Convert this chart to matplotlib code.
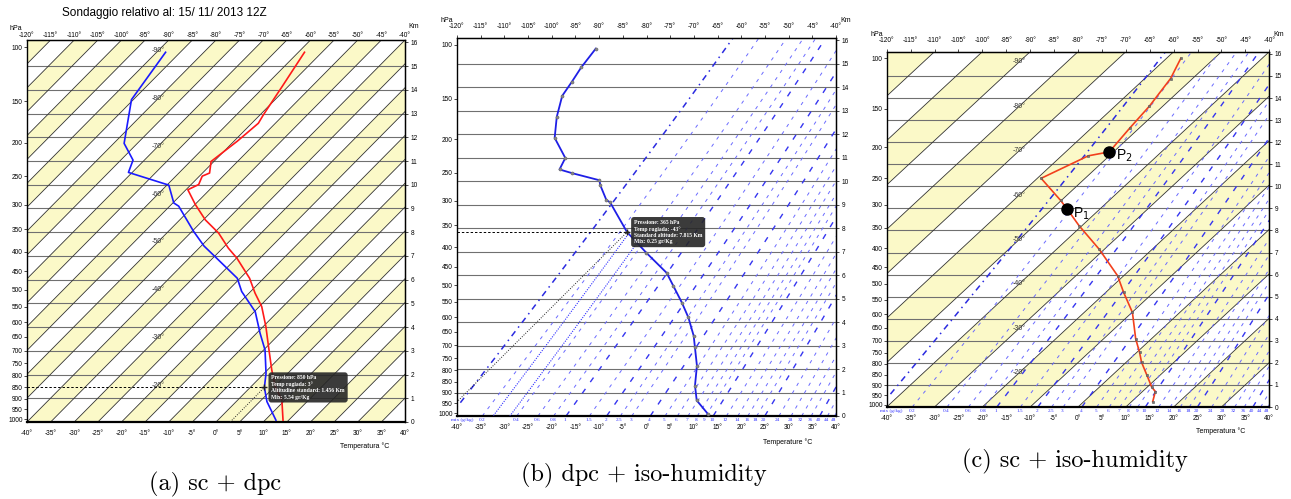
import numpy as np
import matplotlib.pyplot as plt

plt.rcParams['font.family'] = ['Liberation Sans', 'DejaVu Sans']

# ---------------- data ----------------
# (a) sc + dpc : temperature (red) and dew point (blue)
a_temp_p = [104, 134, 165, 175, 198, 227, 245, 250, 264, 273, 300, 330, 358, 392,
            416, 468, 510, 550, 615, 685, 776, 846, 906, 1004]
a_temp_t = [-58.7, -56.3, -54.3, -53.6, -54.3, -55.6, -53.5, -54.4, -53.4, -54.6,
            -49.9, -44.6, -39.0, -33.8, -29.9, -23.0, -18.7, -14.5, -9.4, -4.7,
            0.9, 5.1, 9.3, 13.8]
a_dew_p = [104, 148, 201, 225, 244, 265, 297, 303, 354, 387, 416, 468, 505, 566,
           637, 698, 790, 850, 914, 1004]
a_dew_t = [-88.1, -85.4, -77.8, -72.4, -70.8, -59.6, -54.8, -53.1, -44.7, -39.4,
           -34.2, -25.6, -21.9, -14.8, -9.3, -4.7, 0.4, 3.0, 6.5, 12.3]

# (b) dpc + iso-humidity : dew point only
b_dew_p = [103, 119, 133, 147, 171, 198, 227, 245, 251, 263, 272, 299, 303, 365,
           414, 466, 503, 553, 601, 665, 708, 781, 867, 936, 1005]
b_dew_t = [-88.4, -87.5, -86.4, -85.5, -82.2, -78.2, -71.7, -70.5, -67.1, -59.8,
           -58.5, -54.1, -52.9, -43.0, -34.5, -26.0, -21.8, -16.5, -12.0, -7.0,
           -4.3, 0.0, 3.8, 7.3, 12.7]

# (c) sc + iso-humidity : temperature with points P1, P2
c_temp_p = [100, 118, 147, 173, 207, 213, 250, 291, 309, 345, 402, 475, 526, 594,
            693, 748, 792, 851, 909, 932, 984]
c_temp_t = [-57.0, -54.6, -52.8, -52.0, -50.9, -54.4, -59.2, -50.2, -46.8, -40.6,
            -31.1, -21.3, -16.3, -9.9, -3.3, 0.5, 3.2, 7.2, 10.9, 12.7, 14.4]
c_points = {'1': (309, -46.8), '2': (207, -50.9)}

# axis labels
p_ticks = [100, 150, 200, 250, 300, 350, 400, 450, 500, 550, 600, 650, 700, 750,
           800, 850, 900, 950, 1000]
km_ticks = list(range(0, 17))
t_ticks = list(range(-40, 45, 5))
iso_labels = [-90, -80, -70, -60, -50, -40, -30, -20]
mix_values = [0.2, 0.4, 0.6, 0.8, 1, 1.5, 2, 2.5, 3, 4, 5, 6, 7, 8, 9, 10, 12, 14,
              16, 18, 20, 24, 28, 32, 36, 40, 44, 48]
mix_dark = [1, 2, 4, 10, 20, 40]

YELLOW = '#fbf9c8'
Z_TOP = 16.1
SKEW = 80.0 / Z_TOP


def height_km(p):
    # standard atmosphere altitude (km) is the vertical coordinate
    return 44.33 * (1.0 - (np.asarray(p, dtype=float) / 1013.25) ** 0.19026)


def skew_x(t, p):
    return np.asarray(t, dtype=float) + SKEW * height_km(p)


def mix_dewpoint(w, p):
    e = w * np.asarray(p, dtype=float) / (622.0 + w)
    a = np.log(e / 6.1094)
    return 243.04 * a / (17.625 - a)


fig = plt.figure(figsize=(12.91, 4.99), dpi=100)


def px_axes(x0, y0, x1, y1):
    return fig.add_axes([x0 / 1291, 1 - y1 / 499, (x1 - x0) / 1291, (y1 - y0) / 499])


def px_text(x, y, s, ha='center', **kw):
    fig.text(x / 1291, 1 - y / 499, s, ha=ha, va='center', **kw)


def base_panel(ax, band_step=None, top_pad=3.5, top_len=2):
    ax.set_xlim(-40, 40)
    ax.set_ylim(0, Z_TOP)
    zz = np.array([0.0, Z_TOP])
    if band_step:
        for t in np.arange(-120, 40, band_step):
            if (t // band_step) % 2 == 0:
                ax.fill([t, t + band_step, t + band_step + 80, t + 80],
                        [0, 0, Z_TOP, Z_TOP], color=YELLOW, lw=0, zorder=0)
        for t in np.arange(-120, 45, band_step):
            ax.plot(t + SKEW * zz, zz, color='#333333', lw=0.6, zorder=1.5)
        for t in iso_labels:
            ax.text(-12.3, (-12.3 - t) / SKEW, f'{t}°', fontsize=5, color='#333333',
                    ha='center', va='center', zorder=4)
    for k in range(1, 16):
        ax.axhline(k, color='#707070', lw=0.8, zorder=1)

    ax.set_yticks(height_km(p_ticks))
    ax.set_yticklabels([str(p) for p in p_ticks], fontsize=4.7)
    ax.tick_params(axis='y', length=2, width=0.5, pad=1)
    ax.set_xticks(t_ticks)
    ax.set_xticklabels([f'{t}°' for t in t_ticks], fontsize=4.7)
    ax.tick_params(axis='x', length=0, pad=5.5)

    top = ax.secondary_xaxis('top')
    top.set_xticks(t_ticks, labels=[f'{t - 80}°' for t in t_ticks])
    top.tick_params(length=top_len, width=0.5, pad=top_pad, labelsize=4.7)
    right = ax.secondary_yaxis('right')
    right.set_yticks(km_ticks, labels=[str(k) for k in km_ticks])
    right.tick_params(length=2, width=0.5, pad=2, labelsize=4.7)
    for s in ax.spines.values():
        s.set_linewidth(1.0)
    ax.spines['bottom'].set_linewidth(1.6)


def mix_lines(ax):
    p = np.linspace(1013.25, 95, 200)
    z = height_km(p)
    for w in [0.1] + mix_values:
        x = mix_dewpoint(w, p) + SKEW * z
        if w == 0.1:
            ax.plot(x, z, color='#2a2ae0', lw=1.1, ls=(0, (4, 3, 1, 3)), zorder=2)
        elif w in mix_dark:
            ax.plot(x, z, color='#3535f0', lw=1.0, ls=(0, (4, 6)), zorder=2)
        else:
            ax.plot(x, z, color='#6a6aff', lw=0.7, ls=(0, (3.5, 5.5)), zorder=2)
    ax.annotate('mix (g/kg)', xy=(-41.3, 0), xycoords=('data', 'axes fraction'),
                xytext=(0, -1.5), textcoords='offset points', ha='left', va='top',
                fontsize=3.8, color='#3333ff', family='Liberation Serif',
                annotation_clip=False)
    for w in mix_values:
        ax.annotate(f'{w:g}', xy=(float(mix_dewpoint(w, 1000)), 0),
                    xycoords=('data', 'axes fraction'), xytext=(0, -1.5),
                    textcoords='offset points', ha='center', va='top', fontsize=3.8,
                    color='#3333ff', family='Liberation Serif', annotation_clip=False)


def tooltip(ax, t, p, lines):
    x, z = float(skew_x(t, p)), float(height_km(p))
    ax.plot([-40, x], [z, z], color='k', lw=0.7, ls=(0, (2.5, 2)), zorder=4)
    zz = np.linspace(0, z, 20)
    ax.plot(t + SKEW * zz, zz, color='#222222', lw=0.7, ls=(0, (1, 1.5)), zorder=4)
    ax.plot(x, z, marker='+', color='#222222', ms=4, zorder=6)
    ax.annotate('\n'.join(lines), xy=(x, z), xytext=(5, 0), textcoords='offset points',
                ha='left', va='center', fontsize=4.1, color='white', fontweight='bold',
                family='Liberation Serif', linespacing=1.3, zorder=7,
                bbox=dict(boxstyle='round,pad=0.5', fc='#262626', ec='none', alpha=0.9))


# ---------------- (a) ----------------
ax_a = px_axes(27, 40, 405, 422)
base_panel(ax_a, band_step=5, top_pad=0.8, top_len=0)
ax_a.plot(skew_x(a_temp_t, a_temp_p), height_km(a_temp_p), color='#ff1a1a', lw=1.2, zorder=3)
ax_a.plot(skew_x(a_dew_t, a_dew_p), height_km(a_dew_p), color='#1a1aff', lw=1.2, zorder=3)
tooltip(ax_a, 3, 850, ['Pressione: 850 hPa', 'Temp rugiada: 3°',
                       'Altitudine standard: 1.456 Km', 'Mix: 5.54 gr/Kg'])
px_text(62, 13, 'Sondaggio relativo al: 15/ 11/ 2013 12Z', ha='left', fontsize=8.5)
px_text(16, 29, 'hPa', fontsize=5)
px_text(414, 26, 'Km', fontsize=5)
px_text(365, 446, 'Temperatura °C', fontsize=5)

# ---------------- (b) ----------------
ax_b = px_axes(457, 37.7, 836, 416)
base_panel(ax_b)
mix_lines(ax_b)
pb = np.linspace(365, 1013.25, 50)
for w in (0.25, 0.35):
    ax_b.plot(mix_dewpoint(w, pb) + SKEW * height_km(pb), height_km(pb), color='#3030ff',
              lw=0.8, ls=(0, (1, 1.2)), zorder=4)
ax_b.plot(skew_x(b_dew_t, b_dew_p), height_km(b_dew_p), color='#1f1fe6', lw=1.3,
          marker='o', ms=2.2, mfc='#888888', mec='#666666', mew=0.4, zorder=3)
tooltip(ax_b, -43, 365, ['Pressione: 365 hPa', 'Temp rugiada: -43°',
                         'Standard altitude: 7.815 Km', 'Mix: 0.25 gr/Kg'])
px_text(447, 21, 'hPa', fontsize=5)
px_text(846, 20, 'Km', fontsize=5)
px_text(788, 442, 'Temperature °C', fontsize=5)

# ---------------- (c) ----------------
ax_c = px_axes(886.7, 51.7, 1269.3, 407)
base_panel(ax_c, band_step=10)
mix_lines(ax_c)
ax_c.plot(skew_x(c_temp_t, c_temp_p), height_km(c_temp_p), color='#f2401c', lw=1.2,
          marker='s', ms=1.8, mfc='#777777', mec='#555555', mew=0.4, zorder=3)
for name, (p, t) in c_points.items():
    x, z = float(skew_x(t, p)), float(height_km(p))
    ax_c.plot(x, z, 'o', color='black', ms=8, zorder=6)
    ax_c.annotate('P$_{' + name + '}$', xy=(x, z), xytext=(4.5, -3),
                  textcoords='offset points', ha='left', va='center', fontsize=10,
                  zorder=7)
px_text(877, 34, 'hPa', fontsize=5)
px_text(1279, 34, 'Km', fontsize=5)
px_text(1221, 431, 'Temperatura °C', fontsize=5)

# ---------------- captions ----------------
px_text(215, 484, '(a) sc + dpc', fontsize=17.5, family='cmr10')
px_text(644, 475, '(b) dpc + iso-humidity', fontsize=17.5, family='cmr10')
px_text(1075, 461, '(c) sc + iso-humidity', fontsize=17.5, family='cmr10')

fig.savefig('out.png', dpi=100)
